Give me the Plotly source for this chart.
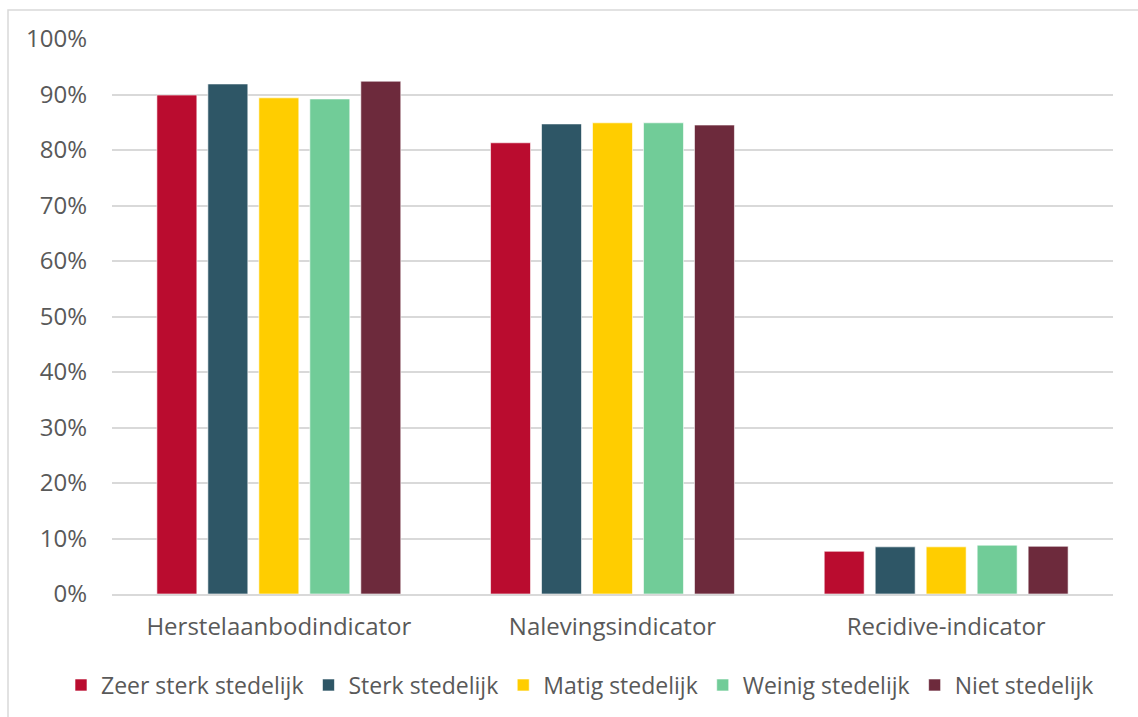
import plotly.graph_objects as go

categories = ["Herstelaanbodindicator", "Nalevingsindicator", "Recidive-indicator"]
series_names = ["Zeer sterk stedelijk", "Sterk stedelijk", "Matig stedelijk", "Weinig stedelijk", "Niet stedelijk"]
zeer_sterk = [0.899, 0.813, 0.077]
sterk = [0.919, 0.847, 0.085]
matig = [0.894, 0.849, 0.085]
weinig = [0.892, 0.849, 0.088]
niet = [0.924, 0.845, 0.086]
colors = ["#BA0C2F", "#2E5666", "#FFCD00", "#71CC98", "#6D2A3C"]
y_ticks = [0, 0.1, 0.2, 0.3, 0.4, 0.5, 0.6, 0.7, 0.8, 0.9, 1.0]
y_tick_labels = ["0%", "10%", "20%", "30%", "40%", "50%", "60%", "70%", "80%", "90%", "100%"]

fig = go.Figure()
for name, vals, col in zip(series_names, [zeer_sterk, sterk, matig, weinig, niet], colors):
    fig.add_trace(go.Bar(
        x=categories, y=vals, name=name,
        marker=dict(color=col, line=dict(color="rgba(255,255,255,0.6)", width=1)),
    ))

font_family = "Open Sans, Noto Sans, sans-serif"
fig.update_layout(
    width=1138, height=717,
    margin=dict(l=112, r=25, t=39, b=123, autoexpand=False),
    paper_bgcolor="white", plot_bgcolor="white",
    barmode="group", bargap=0.236, bargroupgap=0.216,
    font=dict(family=font_family, size=24, color="#595959"),
    showlegend=True,
    legend=dict(orientation="h", x=(61 - 112) / 1001, xanchor="left", y=-0.164, yanchor="middle",
                font=dict(size=23, color="#595959"), itemwidth=30, traceorder="normal",
                itemclick=False, tracegroupgap=0),
    xaxis=dict(showgrid=False, showline=True, linecolor="#d9d9d9", linewidth=1.5,
               ticks="", tickfont=dict(size=24, color="#595959"), ticklabelstandoff=10),
    yaxis=dict(range=[0, 1.0], tickvals=y_ticks, ticktext=y_tick_labels,
               showgrid=True, gridcolor="#d9d9d9", gridwidth=1.5, zeroline=False,
               showline=False, ticks="", tickfont=dict(size=24, color="#595959"),
               ticklabelstandoff=24),
    shapes=[dict(type="rect", xref="paper", yref="paper",
                 x0=-104/1001, x1=1.2, y0=-0.3, y1=1 + 29/555,
                 line=dict(color="#d9d9d9", width=1.5), fillcolor="rgba(0,0,0,0)", layer="below")],
)

fig.write_html("out.html")
